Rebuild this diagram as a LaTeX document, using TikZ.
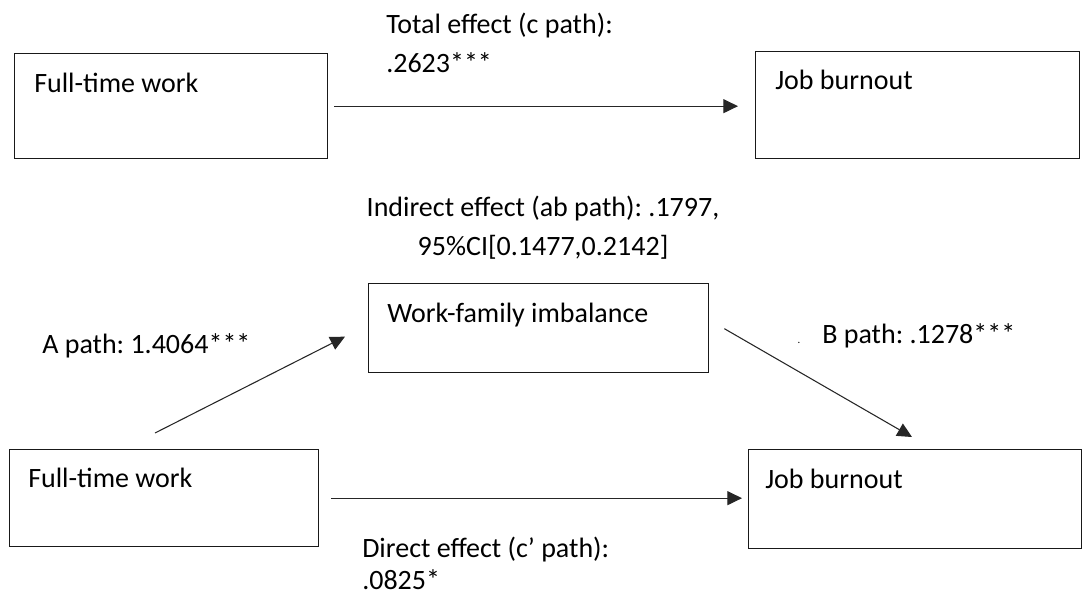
\documentclass[tikz,border=0pt]{standalone}
\usepackage{fontspec}
\setmainfont{Carlito}
\frenchspacing
\usetikzlibrary{arrows.meta,positioning}

\begin{document}
\begin{tikzpicture}[x=0.75pt,y=0.75pt,yscale=-1,
    txt/.style={inner sep=0pt, font=\fontsize{21}{29.25}\selectfont},
    box/.style 2 args={draw=black!90, line width=1pt, inner sep=0pt, anchor=north west,
        minimum width=#1*0.75pt, minimum height=#2*0.75pt},
    conn/.style={draw=black!85, line width=0.8pt, -{Triangle[length=11pt,width=10.5pt]}}]
    \useasboundingbox (0,0) rectangle (1086,600);

    %Shape: Rectangle (total effect model)
    \node [box={313}{105}] (ft1) at (14,53) {};
    \node [box={324}{107}] (jb1) at (755,51) {};
    % Text Node
    \node [txt, anchor=base west] (ft1t) at ([shift={(20,39)}]ft1.north west) {Full-time work};
    % Text Node
    \node [txt, anchor=base west] (jb1t) at ([shift={(20,38)}]jb1.north west) {Job burnout};
    % Text Node
    \node [txt, anchor=base west, align=left] (ctxt) at (386,72) {Total effect (c path):\\.2623***};
    %Straight Lines
    \draw [conn, shorten <=4.5pt, shorten >=12.75pt] (ft1.east) -- (ft1.east -| jb1.west);

    %Shape: Rectangle (mediation model)
    \node [box={340}{89}] (wfi) at (368,283) {};
    \node [box={309}{97}] (ft2) at (9,449) {};
    \node [box={333}{99}] (jb2) at (748,449) {};
    % Text Node
    \node [txt, anchor=base west] (wfit) at ([shift={(19,39)}]wfi.north west) {Work-family imbalance};
    % Text Node
    \node [txt, anchor=base west] (ft2t) at ([shift={(19,38)}]ft2.north west) {Full-time work};
    % Text Node
    \node [txt, anchor=base west] (jb2t) at ([shift={(17,39)}]jb2.north west) {Job burnout};
    % Text Node
    \node [txt, anchor=base, align=center] (abtxt) at (543,255) {Indirect effect (ab path): .1797,\\95\%CI[0.1477,0.2142]};
    % Text Node
    \node [txt, anchor=base west] (atxt) at (42,353) {A path: 1.4064***};
    % Text Node
    \node [txt, anchor=base west] (btxt) at (822,343) {B path: .1278***};
    \node [inner sep=0pt, font=\fontsize{8}{9}\selectfont] (speck) at (799,343) {.};
    % Text Node
    \node [txt, anchor=base west, align=left, font=\fontsize{21}{24}\selectfont] (dtxt) at (362,589) {Direct effect (c’ path):\\.0825*};

    %Straight Lines
    \coordinate (a0) at ([shift={(146,-16)}]ft2.north west);
    \coordinate (a1) at ([shift={(-23,8.5)}]wfi.west);
    \draw [conn] (a0) -- (a1);
    \coordinate (b0) at ([shift={(15,0.5)}]wfi.east);
    \coordinate (b1) at ([shift={(164,-12)}]jb2.north west);
    \draw [conn] (b0) -- (b1);
    \draw [conn, shorten <=9pt, shorten >=4.5pt] (ft2.east) -- (ft2.east -| jb2.west);

\end{tikzpicture}
\end{document}
